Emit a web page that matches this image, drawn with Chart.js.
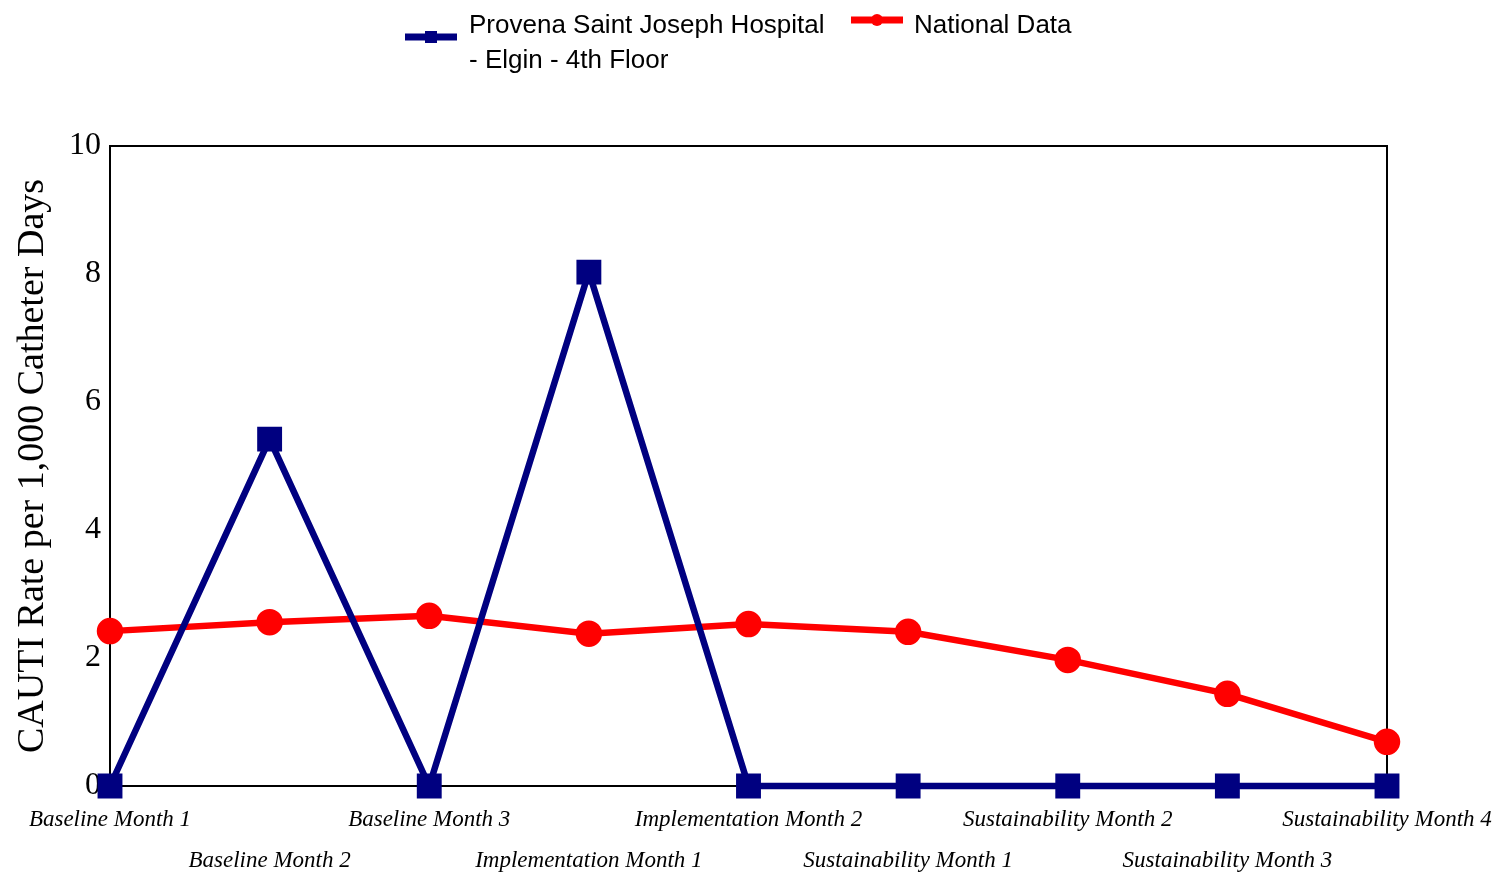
<!DOCTYPE html>
<html>
<head>
<meta charset="utf-8">
<title>CAUTI Rate per 1,000 Catheter Days</title>
<script src="https://cdn.jsdelivr.net/npm/chart.js@4/dist/chart.umd.min.js"></script>
<style>
  html, body { margin: 0; padding: 0; background: #fff; }
  #wrap { width: 1503px; height: 875px; position: relative; }
</style>
</head>
<body>
<div id="wrap"><canvas id="chart" width="1503" height="875"></canvas></div>
<script>
// Periods on the horizontal axis
const periods = [
  'Baseline Month 1', 'Baseline Month 2', 'Baseline Month 3',
  'Implementation Month 1', 'Implementation Month 2',
  'Sustainability Month 1', 'Sustainability Month 2',
  'Sustainability Month 3', 'Sustainability Month 4'
];

// CAUTI rates per 1,000 catheter days
const hospitalRates = [0, 5.42, 0, 8.03, 0, 0, 0, 0, 0];
const nationalRates = [2.42, 2.56, 2.66, 2.38, 2.53, 2.41, 1.97, 1.44, 0.69];

const hospitalName = ['Provena Saint Joseph Hospital', '- Elgin - 4th Floor'];
const nationalName = 'National Data';

const yTicks = [0, 2, 4, 6, 8, 10];

const NAVY = '#000080';
const RED = '#ff0000';

// Black frame around the plot area
const framePlugin = {
  id: 'frame',
  beforeDatasetsDraw(chart) {
    const { ctx, chartArea: a } = chart;
    ctx.save();
    ctx.strokeStyle = '#000';
    ctx.lineWidth = 2;
    ctx.strokeRect(a.left, a.top, a.right - a.left, a.bottom - a.top);
    ctx.restore();
  }
};

// Legend with a two-line label for the hospital series
const legendPlugin = {
  id: 'twoLineLegend',
  afterDraw(chart) {
    const ctx = chart.ctx;
    ctx.save();
    ctx.font = '26px "Liberation Sans", Arial, sans-serif';
    ctx.fillStyle = '#000';
    ctx.textBaseline = 'alphabetic';
    ctx.textAlign = 'left';

    // hospital entry
    ctx.strokeStyle = NAVY;
    ctx.lineWidth = 7;
    ctx.beginPath(); ctx.moveTo(405, 37); ctx.lineTo(457, 37); ctx.stroke();
    ctx.fillStyle = NAVY;
    ctx.fillRect(425, 31, 12, 12);
    ctx.fillStyle = '#000';
    ctx.fillText(hospitalName[0], 469, 33);
    ctx.fillText(hospitalName[1], 469, 68);

    // national entry
    ctx.strokeStyle = RED;
    ctx.lineWidth = 7;
    ctx.beginPath(); ctx.moveTo(851, 20); ctx.lineTo(903, 20); ctx.stroke();
    ctx.fillStyle = RED;
    ctx.beginPath(); ctx.arc(877, 20, 6, 0, Math.PI * 2); ctx.fill();
    ctx.fillStyle = '#000';
    ctx.fillText(nationalName, 914, 33);
    ctx.restore();
  }
};

new Chart(document.getElementById('chart'), {
  type: 'line',
  data: {
    labels: periods,
    datasets: [
      {
        label: hospitalName.join(' '),
        data: hospitalRates,
        borderColor: NAVY,
        backgroundColor: NAVY,
        borderWidth: 6.5,
        pointStyle: 'rect',
        pointRadius: 13,
        pointHoverRadius: 13,
        tension: 0,
        clip: false
      },
      {
        label: nationalName,
        data: nationalRates,
        borderColor: RED,
        backgroundColor: RED,
        borderWidth: 6.5,
        pointStyle: 'circle',
        pointRadius: 10,
        pointHoverRadius: 10,
        tension: 0,
        clip: false
      }
    ]
  },
  options: {
    responsive: false,
    animation: false,
    layout: { padding: { top: 146, right: 116, bottom: 0, left: 0 } },
    plugins: {
      legend: { display: false },
      tooltip: { enabled: false }
    },
    scales: {
      x: {
        type: 'category',
        offset: false,
        grid: { display: false },
        border: { display: false },
        afterFit(scale) { scale.height = 89; },
        ticks: {
          autoSkip: false,
          maxRotation: 0,
          minRotation: 0,
          padding: 5,
          color: '#000',
          font: { family: '"Liberation Serif", "Times New Roman", serif', style: 'italic', size: 23, lineHeight: 1.8 },
          callback(value, index) {
            const text = periods[index];
            return index % 2 === 0 ? text : ['', text];
          }
        }
      },
      y: {
        min: 0,
        max: 10,
        grid: { display: false },
        border: { display: false },
        afterFit(scale) { scale.width = 110; },
        afterBuildTicks(scale) { scale.ticks = yTicks.map(v => ({ value: v })); },
        ticks: {
          padding: 1,
          color: '#000',
          font: { family: '"Liberation Serif", "Times New Roman", serif', size: 32 }
        },
        title: {
          display: true,
          text: 'CAUTI Rate per 1,000 Catheter Days',
          color: '#000',
          padding: { top: 10, bottom: 0 },
          font: { family: '"Liberation Serif", "Times New Roman", serif', size: 38 }
        }
      }
    }
  },
  plugins: [framePlugin, legendPlugin]
});
</script>
</body>
</html>
